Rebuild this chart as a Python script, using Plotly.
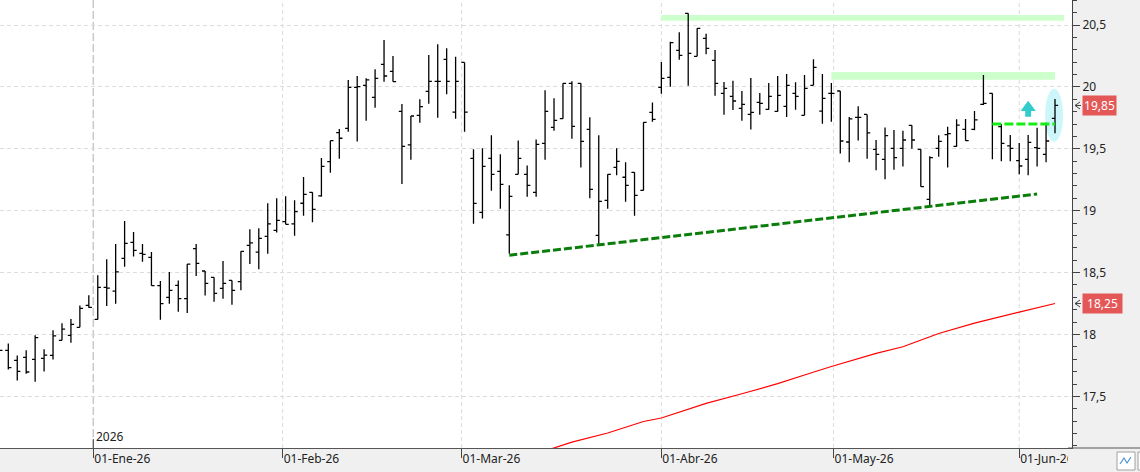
import pandas as pd
import plotly.graph_objects as go

# ---------------- data ----------------
holidays = ["2025-12-25", "2025-12-26", "2026-01-01", "2026-04-03", "2026-04-06", "2026-05-01"]
dates = [d for d in pd.bdate_range("2025-12-15", "2026-06-05") if d.strftime("%Y-%m-%d") not in holidays]

opens = [17.85, 17.872, 17.791, 17.815, 17.799, 17.807, 17.832, 17.953, 17.993, 18.058, 18.235,
         18.122, 18.381, 18.351, 18.615, 18.744, 18.656, 18.623, 18.394, 18.300, 18.397, 18.289, 18.693, 18.513, 18.462, 18.373, 18.437, 18.427, 18.720, 18.666, 18.793, 18.841,
         18.911, 18.893, 19.060, 19.148, 19.120, 19.396, 19.630, 19.665, 19.996, 20.013, 19.916, 20.182, 20.126, 19.803, 19.531, 19.770, 19.964, 20.045, 20.223, 19.797,
         20.198, 19.423, 18.987, 19.423, 19.318, 18.804, 19.294, 19.294, 19.148, 19.544, 19.673, 19.743, 20.029, 20.029, 19.657, 18.801, 19.084, 19.350, 19.270, 19.310, 19.164, 19.795,
         19.996, 20.077, 20.295, 20.594, 20.247, 20.392, 20.215, 19.948, 19.924, 19.827, 19.778, 19.875, 19.819, 19.803, 19.843, 19.948, 19.770, 20.013, 19.805, 19.948,
         19.967, 19.555, 19.754, 19.778, 19.496, 19.415, 19.504, 19.504, 19.690, 19.496, 19.092, 19.504, 19.614, 19.520, 19.657, 19.657, 19.859, 19.948, 19.679, 19.523,
         19.404, 19.415, 19.509, 19.455, 19.746]
highs = [17.92, 17.928, 17.831, 17.872, 17.993, 17.880, 18.034, 18.090, 18.125, 18.235, 18.316,
         18.478, 18.607, 18.731, 18.917, 18.828, 18.731, 18.666, 18.432, 18.505, 18.437, 18.569, 18.731, 18.513, 18.462, 18.594, 18.437, 18.672, 18.850, 18.858, 19.060, 19.100,
         19.116, 19.084, 19.272, 19.148, 19.426, 19.566, 19.660, 20.056, 20.088, 20.069, 20.142, 20.379, 20.250, 19.862, 19.765, 19.900, 20.258, 20.344, 20.312, 20.244,
         20.198, 19.496, 19.504, 19.609, 19.455, 19.205, 19.568, 19.366, 19.576, 19.972, 19.908, 20.029, 20.045, 20.029, 19.754, 19.609, 19.294, 19.504, 19.391, 19.310, 19.714, 19.875,
         20.201, 20.365, 20.441, 20.594, 20.473, 20.430, 20.298, 20.040, 20.050, 19.967, 20.072, 19.951, 20.031, 20.088, 20.104, 20.037, 20.096, 20.223, 20.104, 20.031,
         19.967, 19.757, 19.843, 19.778, 19.571, 19.673, 19.652, 19.646, 19.690, 19.496, 19.439, 19.609, 19.679, 19.738, 19.741, 19.805, 20.096, 19.948, 19.700, 19.612,
         19.547, 19.612, 19.671, 19.711, 19.902]
lows = [17.80, 17.718, 17.629, 17.683, 17.619, 17.700, 17.797, 17.953, 17.934, 18.058, 18.216,
        18.122, 18.230, 18.249, 18.548, 18.629, 18.588, 18.394, 18.120, 18.249, 18.184, 18.174, 18.472, 18.314, 18.265, 18.289, 18.241, 18.357, 18.570, 18.526, 18.653, 18.823,
        18.890, 18.798, 18.960, 18.906, 19.113, 19.307, 19.420, 19.638, 19.558, 19.727, 19.832, 20.042, 20.042, 19.216, 19.412, 19.711, 19.864, 19.751, 19.940, 19.743,
        19.638, 18.895, 18.936, 19.162, 19.016, 18.653, 19.294, 19.113, 19.113, 19.412, 19.646, 19.743, 19.582, 19.348, 19.100, 18.720, 19.016, 19.286, 19.073, 18.960, 19.164, 19.719,
        19.945, 20.002, 20.220, 20.010, 20.247, 20.263, 19.929, 19.776, 19.813, 19.727, 19.655, 19.776, 19.816, 19.800, 19.757, 19.816, 19.770, 20.013, 19.703, 19.719,
        19.461, 19.391, 19.568, 19.420, 19.326, 19.253, 19.331, 19.356, 19.501, 19.194, 19.041, 19.436, 19.348, 19.517, 19.566, 19.649, 19.854, 19.415, 19.399, 19.399,
        19.294, 19.286, 19.356, 19.391, 19.625]
closes = [17.872, 17.732, 17.702, 17.697, 17.974, 17.834, 17.988, 18.044, 18.082, 18.211, 18.219,
          18.381, 18.375, 18.505, 18.736, 18.680, 18.647, 18.394, 18.249, 18.357, 18.289, 18.569, 18.575, 18.413, 18.332, 18.413, 18.357, 18.672, 18.740, 18.777, 18.893, 18.922,
          18.890, 18.992, 19.132, 19.011, 19.358, 19.566, 19.585, 19.996, 20.002, 20.056, 20.069, 20.088, 20.042, 19.520, 19.765, 19.840, 20.045, 20.045, 20.045, 20.045,
          19.797, 19.059, 19.358, 19.294, 19.213, 19.116, 19.423, 19.205, 19.536, 19.803, 19.730, 20.029, 19.681, 19.560, 19.173, 19.076, 19.294, 19.399, 19.205, 19.124, 19.714, 19.738,
          20.069, 20.357, 20.255, 20.271, 20.473, 20.311, 20.029, 19.988, 19.886, 19.859, 19.794, 19.867, 19.924, 19.932, 20.013, 19.924, 19.988, 20.158, 19.908, 19.948,
          19.563, 19.741, 19.754, 19.628, 19.455, 19.606, 19.428, 19.571, 19.571, 19.194, 19.428, 19.560, 19.622, 19.692, 19.566, 19.733, 19.867, 19.700, 19.544, 19.504,
          19.361, 19.552, 19.504, 19.563, 19.850]

# moving average (read at sample dates)
ma_dates = ["2026-03-13", "2026-03-16", "2026-03-18", "2026-03-24", "2026-03-30", "2026-04-01", "2026-04-10",
            "2026-04-16", "2026-04-22", "2026-04-27", "2026-04-30", "2026-05-08", "2026-05-13", "2026-05-19",
            "2026-05-25", "2026-06-01", "2026-06-05"]
ma_values = [17.060, 17.083, 17.130, 17.204, 17.297, 17.325, 17.443,
             17.521, 17.603, 17.673, 17.741, 17.847, 17.901, 18.008,
             18.092, 18.181, 18.250]

# drawn analysis objects
support_dates = ["2026-03-09", "2026-06-03"]
support_values = [18.64, 19.135]
breakout_dates = ["2026-05-27", "2026-06-05"]
breakout_values = [19.70, 19.70]
band_starts = ["2026-04-01", "2026-04-30"]
band_ends = ["2026-06-05", "2026-06-05"]
band_lo = [20.534, 20.058]
band_hi = [20.580, 20.121]
arrow_date = "2026-06-02"
arrow_base, arrow_neck, arrow_tip = 19.759, 19.805, 19.889
ellipse_date = "2026-06-05"
ellipse_lo, ellipse_hi = 19.557, 19.985

month_starts = ["2026-01-01", "2026-02-01", "2026-03-01", "2026-04-01", "2026-05-01", "2026-06-01"]
month_labels = ["01-Ene-26", "01-Feb-26", "01-Mar-26", "01-Abr-26", "01-May-26", "01-Jun-26"]
y_ticks = [17.5, 18, 18.5, 19, 19.5, 20, 20.5]
y_tick_labels = ["17,5", "18", "18,5", "19", "19,5", "20", "20,5"]

# ---------------- helpers ----------------
def pos(date):
    d = pd.Timestamp(date)
    if d in dates:
        return dates.index(d)
    prev = max(i for i, t in enumerate(dates) if t < d)
    nxt = prev + 1
    return prev + (d - dates[prev]).days / (dates[nxt] - dates[prev]).days

xpos = list(range(len(dates)))
W, H = 1140, 472
PL, PR, PB = 0, 68, 24
plot_w = W - PL - PR
plot_h = H - PB

def px_x(p):
    return (p - PL) / plot_w

def px_y(p):
    return (plot_h - p) / plot_h

fig = go.Figure()

fig.add_trace(go.Scatter(x=[pos(d) for d in ma_dates], y=ma_values, mode="lines",
                         line=dict(color="#ff0000", width=1.2), hoverinfo="skip", showlegend=False))
fig.add_trace(go.Scatter(x=[pos(d) for d in support_dates], y=support_values, mode="lines",
                         line=dict(color="#0a7d0a", width=3, dash="8px,3px"), hoverinfo="skip", showlegend=False))
fig.add_trace(go.Scatter(x=[pos(d) for d in breakout_dates], y=breakout_values, mode="lines",
                         line=dict(color="#14ee14", width=3, dash="9px,3px"), hoverinfo="skip", showlegend=False))
fig.add_trace(go.Ohlc(x=xpos, open=opens, high=highs, low=lows, close=closes, tickwidth=0.35,
                      increasing=dict(line=dict(color="#000000", width=1.3)),
                      decreasing=dict(line=dict(color="#000000", width=1.3)),
                      hoverinfo="skip", showlegend=False))

shapes = []
# month dividers
for m in month_starts:
    is_year = m.endswith("01-01")
    shapes.append(dict(type="line", xref="x", yref="paper", x0=pos(m), x1=pos(m), y0=0, y1=1,
                       layer="below",
                       line=dict(color="#cacaca" if is_year else "#dcdcdc", width=1.5 if is_year else 1,
                                 dash="8px,3px" if is_year else "4px,3px")))
# year tick
shapes.append(dict(type="line", xref="x", yref="paper", x0=pos(month_starts[0]), x1=pos(month_starts[0]),
                   y0=px_y(439), y1=px_y(448), line=dict(color="#444", width=1)))
# resistance bands
for s, e, lo, hi, ext in zip(band_starts, band_ends, band_lo, band_hi, [1.0, 0.0]):
    shapes.append(dict(type="rect", xref="x", yref="y", x0=pos(s), x1=pos(e) + ext, y0=lo, y1=hi,
                       fillcolor="#ccffcc", line=dict(width=0), layer="below"))
# ellipse
ec = pos(ellipse_date)
shapes.append(dict(type="circle", xref="x", yref="y", x0=ec - 1.1, x1=ec + 0.9, y0=ellipse_lo, y1=ellipse_hi,
                   fillcolor="#ccf6fa", line=dict(width=0), layer="below"))
# arrow
c = pos(arrow_date)
path = (f"M {c-0.33},{arrow_base} L {c+0.33},{arrow_base} L {c+0.33},{arrow_neck} L {c+0.85},{arrow_neck} "
        f"L {c},{arrow_tip} L {c-0.85},{arrow_neck} L {c-0.33},{arrow_neck} Z")
shapes.append(dict(type="path", xref="x", yref="y", path=path, fillcolor="#33cccc", line=dict(width=0)))
# cover for clipped x label in right panel
shapes.append(dict(type="rect", xref="paper", yref="paper", x0=px_x(1068), x1=px_x(W), y0=px_y(449), y1=px_y(H),
                   fillcolor="#f0f0f0", line=dict(width=0), layer="above"))
# x axis line extension
shapes.append(dict(type="line", xref="paper", yref="paper", x0=px_x(1068), x1=px_x(W), y0=0, y1=0,
                   line=dict(color="#555", width=1), layer="above"))
# bottom-right button
shapes.append(dict(type="rect", xref="paper", yref="paper", x0=px_x(1117), x1=px_x(1135), y0=px_y(452), y1=px_y(470),
                   fillcolor="#ffffff", line=dict(color="#a0a0a0", width=1), layer="above"))
shapes.append(dict(type="path", xref="paper", yref="paper",
                   path=f"M {px_x(1120)},{px_y(464)} L {px_x(1124)},{px_y(458)} L {px_x(1127)},{px_y(463)} L {px_x(1131)},{px_y(457)}",
                   line=dict(color="#4a90d9", width=1.2), layer="above"))
shapes.append(dict(type="rect", xref="paper", yref="paper", x0=px_x(1138), x1=px_x(1145), y0=px_y(452), y1=px_y(470),
                   fillcolor="#ffffff", line=dict(color="#a0a0a0", width=1), layer="above"))

# price tag pointers
annotations = []
last_close = closes[-1]
last_ma = ma_values[-1]
for val, wdt in [(last_close, 31), (last_ma, 37)]:
    dy = 0.028
    shapes.append(dict(type="path", xref="paper", yref="y",
                       path=f"M {px_x(1080)},{val+dy} L {px_x(1075)},{val} L {px_x(1080)},{val-dy} M {px_x(1075)},{val} L {px_x(1081)},{val}",
                       line=dict(color="#444", width=1), layer="above"))
    annotations.append(dict(xref="paper", yref="y", x=px_x(1082), y=val, xanchor="left", yanchor="middle",
                            text=f"{val:.2f}".replace(".", ","), showarrow=False, bgcolor="#e45757",
                            font=dict(family="Noto Sans", size=12, color="#ffffff"), borderpad=1, width=wdt))

annotations.append(dict(xref="x", yref="paper", x=pos(month_starts[0]), y=0, xanchor="left", yanchor="bottom",
                        text="2026", showarrow=False, xshift=1, yshift=1,
                        font=dict(family="Noto Sans", size=12, color="#222")))

fig.update_layout(
    width=W, height=H,
    margin=dict(l=PL, r=PR, t=0, b=PB, pad=0),
    paper_bgcolor="#f0f0f0", plot_bgcolor="#ffffff",
    showlegend=False,
    shapes=shapes, annotations=annotations,
    xaxis=dict(range=[0.072, 119.9], tickmode="array", tickvals=[pos(m) for m in month_starts], ticktext=month_labels,
               ticks="outside", ticklen=9, tickcolor="#444", tickwidth=1,
               showgrid=False, zeroline=False, showline=True, linecolor="#555", linewidth=1,
               ticklabelposition="outside right", rangeslider=dict(visible=False),
               tickfont=dict(family="Noto Sans", size=12, color="#222"), fixedrange=True),
    yaxis=dict(side="right", range=[17.083, 20.702], tickmode="array", tickvals=y_ticks, ticktext=y_tick_labels,
               ticks="outside", ticklen=7, tickcolor="#444", tickwidth=1,
               showline=True, linecolor="#444", linewidth=1,
               showgrid=True, gridcolor="#dcdcdc", griddash="4px,3px", gridwidth=1, zeroline=False,
               minor=dict(dtick=0.1, tick0=17.0, ticks="outside", ticklen=4, tickcolor="#444", showgrid=False),
               tickfont=dict(family="Noto Sans", size=12, color="#222"), fixedrange=True),
)

fig.write_html("out.html")
